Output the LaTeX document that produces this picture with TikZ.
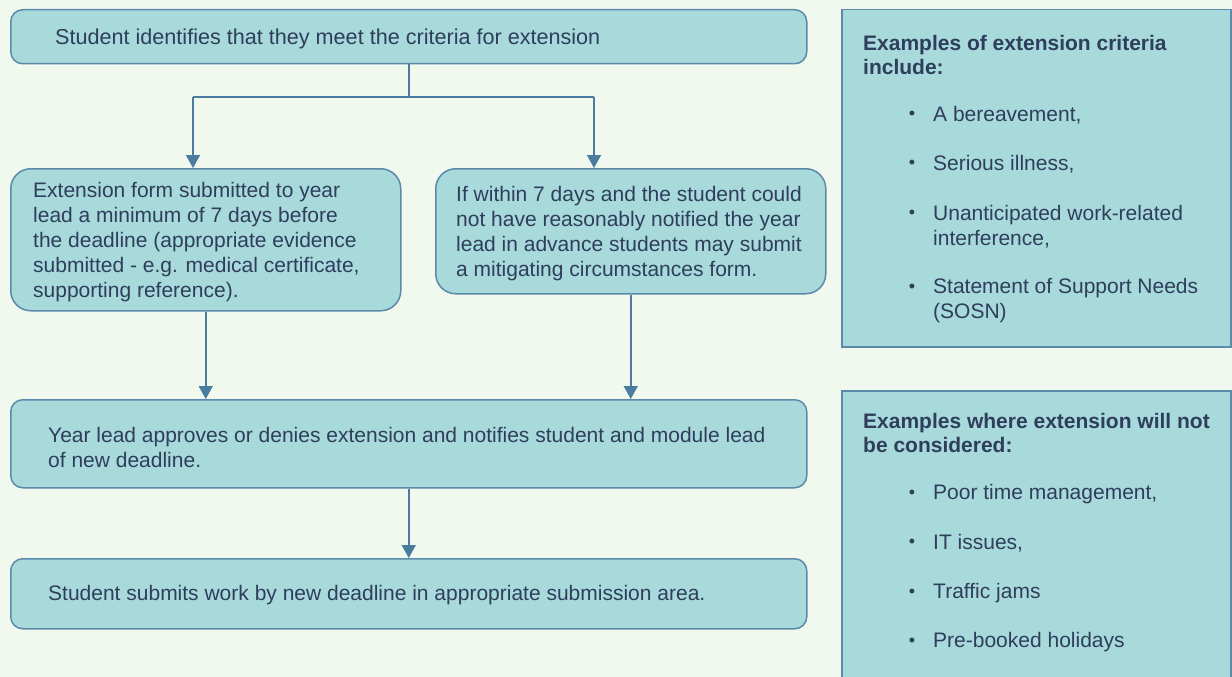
\documentclass[tikz,border=0pt]{standalone}
\usepackage{fontspec}
\setmainfont{Liberation Sans}
\usetikzlibrary{arrows.meta}
\definecolor{bgc}{HTML}{F1F8EE}
\definecolor{boxfill}{HTML}{A8D9DB}
\definecolor{boxline}{HTML}{5B8AAA}
\definecolor{txtc}{HTML}{2E3E5C}
\definecolor{arrowc}{HTML}{4A7CA0}
\begin{document}
\begin{tikzpicture}[x=1pt,y=-1pt,
  flowbox/.style={draw=boxline, fill=boxfill, line width=1.5pt, rounded corners=#1, anchor=north west, inner sep=0pt},
  flowbox/.default=12pt,
  panel/.style={draw=boxline, fill=boxfill, line width=1.5pt, anchor=north west, inner sep=0pt},
  txt/.style={anchor=west, align=left, inner sep=0pt, text=txtc, font=\fontsize{21}{25}\selectfont},
  ttl/.style={txt, font=\fontsize{21}{24.5}\selectfont\bfseries},
  bul/.style={inner sep=0pt, text=txtc, font=\fontsize{18}{18}\selectfont},
  conn/.style={draw=arrowc, line width=1.5pt},
  arr/.style={conn, -{Triangle[width=14pt,length=13pt]}}]
\useasboundingbox (0,0) rectangle (1232,677);
\fill[bgc] (0,0) rectangle (1232,677);
\begin{scope}
\clip (0,0) rectangle (1232,677);
% flow boxes
\node[flowbox, minimum width=796pt, minimum height=54pt] (top) at (10,9) {};
\node[txt, font=\fontsize{21.6}{25}\selectfont] (topT) at (55,39) {Student identifies that they meet the criteria for extension};

\node[flowbox=20pt, minimum width=390pt, minimum height=142pt] (ext) at (10,168) {};
\node[txt] (extT) at (33,242.5) {Extension form submitted to year\\lead a minimum of 7 days before\\the deadline (appropriate evidence\\submitted - e.g. medical certificate,\\supporting reference).};

\node[flowbox=20pt, minimum width=390pt, minimum height=125pt] (mit) at (435,168) {};
\node[txt] (mitT) at (456,233.5) {If within 7 days and the student could\\not have reasonably notified the year\\lead in advance students may submit\\a mitigating circumstances form.};

\node[flowbox, minimum width=796pt, minimum height=88pt] (year) at (10,399) {};
\node[txt] (yearT) at (48,447) {Year lead approves or denies extension and notifies student and module lead\\of new deadline.};

\node[flowbox, minimum width=796pt, minimum height=70pt] (sub) at (10,558) {};
\node[txt] (subT) at (48,595) {Student submits work by new deadline in appropriate submission area.};

% connectors
\coordinate (jl) at (193,97);
\coordinate (jr) at (594,97);
\draw[conn] (top.south) -- (top.south |- jl);
\draw[conn] (jl) -- (jr);
\draw[arr] (jl) -- (jl |- ext.north);
\draw[arr] (jr) -- (jr |- mit.north);
\draw[arr] (ext.south) -- (ext.south |- year.north);
\draw[arr] (mit.south) -- (mit.south |- year.north);
\draw[arr] (year.south) -- (sub.north);

% right panels
\node[panel, minimum width=389pt, minimum height=337pt] (crit) at (841,9) {};
\node[ttl] (critT) at (863,55) {Examples of extension criteria\\include:};
\node[bul] (cb1) at (912,115) {•};
\node[txt] (ci1) at (933,115) {A bereavement,};
\node[bul] (cb2) at (912,164) {•};
\node[txt] (ci2) at (933,164) {Serious illness,};
\node[bul] (cb3) at (912,214) {•};
\node[txt] (ci3) at (933,226.5) {Unanticipated work-related\\interference,};
\node[bul] (cb4) at (912,288) {•};
\node[txt] (ci4) at (933,300.5) {Statement of Support Needs\\(SOSN)};

\node[panel, minimum width=389pt, minimum height=310pt] (notc) at (841,390) {};
\node[ttl] (notT) at (863,433) {Examples where extension will not\\be considered:};
\node[bul] (nb1) at (912,494) {•};
\node[txt] (ni1) at (933,494) {Poor time management,};
\node[bul] (nb2) at (912,543) {•};
\node[txt] (ni2) at (933,543) {IT issues,};
\node[bul] (nb3) at (912,593) {•};
\node[txt] (ni3) at (933,593) {Traffic jams};
\node[bul] (nb4) at (912,642) {•};
\node[txt] (ni4) at (933,642) {Pre-booked holidays};
\end{scope}
\end{tikzpicture}
\end{document}
